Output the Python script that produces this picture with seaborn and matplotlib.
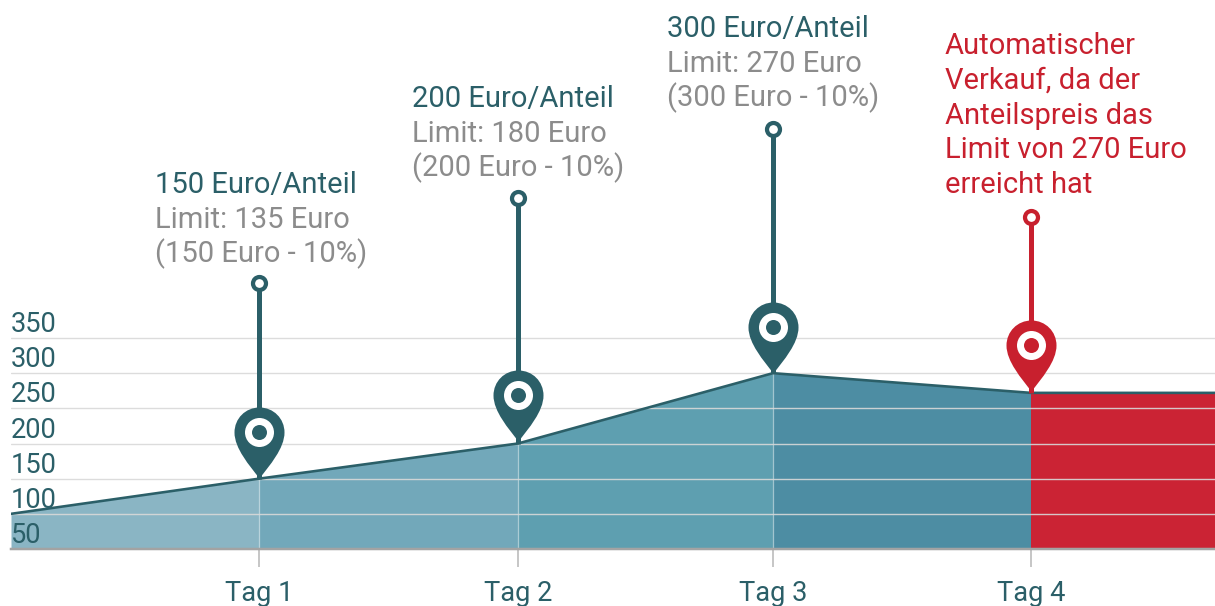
import matplotlib
matplotlib.use("Agg")
import matplotlib.pyplot as plt
import matplotlib.transforms as mtransforms
from matplotlib.path import Path
import pandas as pd
import seaborn as sns

# Data
days = [0.036, 1.0, 2.006, 2.997, 4.0, 4.715]
prices = [100, 150, 200, 300, 272, 272]
band_colors = ["#8ab5c4", "#72a8ba", "#5e9fb0", "#4d8da3", "#cb2334"]

tag_days = [1.0, 2.006, 2.997, 4.0]
tag_prices = [150, 200, 300, 272]
tag_labels = ["Tag 1", "Tag 2", "Tag 3", "Tag 4"]
y_ticks = [50, 100, 150, 200, 250, 300, 350]
stem_tops = [428, 549, 647, 522]
pin_lifts = [1, 3, 0, 2]

heads = ["150 Euro/Anteil", "200 Euro/Anteil", "300 Euro/Anteil"]
limits = ["Limit: 135 Euro", "Limit: 180 Euro", "Limit: 270 Euro"]
formulas = ["(150 Euro - 10%)", "(200 Euro - 10%)", "(300 Euro - 10%)"]
sale_lines = ["Automatischer", "Verkauf, da der", "Anteilspreis das",
              "Limit von 270 Euro", "erreicht hat"]

TEAL = "#2b5f68"
GRAY = "#8c8c8c"
RED = "#c8202e"
DPI = 100
FONT_SIZE = 21
PX = 72 / DPI

sns.set_theme(style="white")
plt.rcParams["font.family"] = ["Roboto", "DejaVu Sans"]


def pin_path():
    # teardrop with the tip at the origin, in pixels
    r, cy = 25, 46
    return Path(
        [(0, 0), (-10, 13), (-25, 30), (-25, cy), (-25, cy + 14), (-14, cy + r), (0, cy + r),
         (14, cy + r), (25, cy + 14), (25, cy), (25, 30), (10, 13), (0, 0), (0, 0)],
        [Path.MOVETO, Path.CURVE4, Path.CURVE4, Path.CURVE4, Path.CURVE4, Path.CURVE4, Path.CURVE4,
         Path.CURVE4, Path.CURVE4, Path.CURVE4, Path.CURVE4, Path.CURVE4, Path.CURVE4, Path.CLOSEPOLY],
    )


def draw_pin(ax, x, y, top, lift, color):
    # stem, small ring on top, then the pin itself
    ax.plot([x, x], [y, top], color=color, lw=5 * PX, solid_capstyle="butt", zorder=5)
    ax.plot([x], [top], "o", ms=13 * PX, mfc="white", mec=color, mew=4.2 * PX, zorder=6)
    tip = mtransforms.offset_copy(ax.transData, fig=ax.figure, x=0, y=lift * PX, units="points")
    ax.plot([x], [y], marker=pin_path(), ms=2 * 71 * PX, color=color, mew=0, transform=tip, zorder=7)
    center = mtransforms.offset_copy(ax.transData, fig=ax.figure, x=0, y=(46 + lift) * PX, units="points")
    ax.plot([x], [y], "o", ms=29 * PX, color="white", mew=0, transform=center, zorder=8)
    ax.plot([x], [y], "o", ms=15 * PX, color=color, mew=0, transform=center, zorder=9)


def label_line(ax, x, top, text, dx, dy, color):
    ax.annotate(text, xy=(x, top), xytext=(dx, dy), textcoords="offset pixels",
                color=color, fontsize=FONT_SIZE, ha="left", va="baseline", zorder=10,
                annotation_clip=False)


fig = plt.figure(figsize=(12.15, 6.06), dpi=DPI)
ax = fig.add_axes([11 / 1215, 57 / 606, 1204 / 1215, 549 / 606])

# Coloured bands between the days
for i, color in enumerate(band_colors):
    ax.fill_between(days[i:i + 2], prices[i:i + 2], 50, color=color, lw=0, zorder=1)

# Pale verticals inside the area
for x, y in zip(tag_days[:3], tag_prices[:3]):
    ax.plot([x, x], [50, y], color="white", alpha=0.3, lw=1, zorder=2)

df = pd.DataFrame({"day": days, "price": prices})
sns.lineplot(data=df, x="day", y="price", color=TEAL, lw=2.6 * PX, ax=ax, zorder=4)

for x, y, top, lift, color in zip(tag_days, tag_prices, stem_tops, pin_lifts, [TEAL, TEAL, TEAL, RED]):
    draw_pin(ax, x, y, top, lift, color)

for x, top, head, limit, formula, drop in zip(tag_days, stem_tops, heads, limits, formulas, [2, 1, 0]):
    dx = -104 if x == 1.0 else -106
    label_line(ax, x, top, head, dx, 92 - drop, TEAL)
    label_line(ax, x, top, limit, dx, 57 - drop, GRAY)
    label_line(ax, x, top, formula, dx, 23 - drop, GRAY)

for line, dy in zip(sale_lines, [163, 128, 93, 59, 24]):
    label_line(ax, tag_days[3], stem_tops[3], line, -86, dy, RED)

ax.set_xlim(days[0], days[-1])
ax.set_ylim(50, 830.6)
ax.set_xlabel("")
ax.set_ylabel("")
ax.set_xticks(tag_days)
ax.set_xticklabels(tag_labels, color=TEAL, fontsize=FONT_SIZE - 1.4)
ax.tick_params(axis="x", length=18 * PX, width=1.5 * PX, color="#b5b5b5", pad=13 * PX, bottom=True)

ax.set_yticks(y_ticks)
ax.set_yticklabels(y_ticks, color=TEAL, fontsize=FONT_SIZE - 1.4)
ax.tick_params(axis="y", length=0, pad=0)
for lab in ax.get_yticklabels():
    lab.set_ha("left")
    lab.set_va("bottom")

ax.grid(axis="y", color="#d9d9d9", lw=1.4 * PX, alpha=0.9, zorder=3)
ax.set_axisbelow(False)
sns.despine(ax=ax, left=True, top=True, right=True)
ax.spines["bottom"].set_color("#a3a3a3")
ax.spines["bottom"].set_linewidth(2.5 * PX)
ax.spines["bottom"].set_zorder(5)

fig.savefig("out.png", dpi=DPI)
